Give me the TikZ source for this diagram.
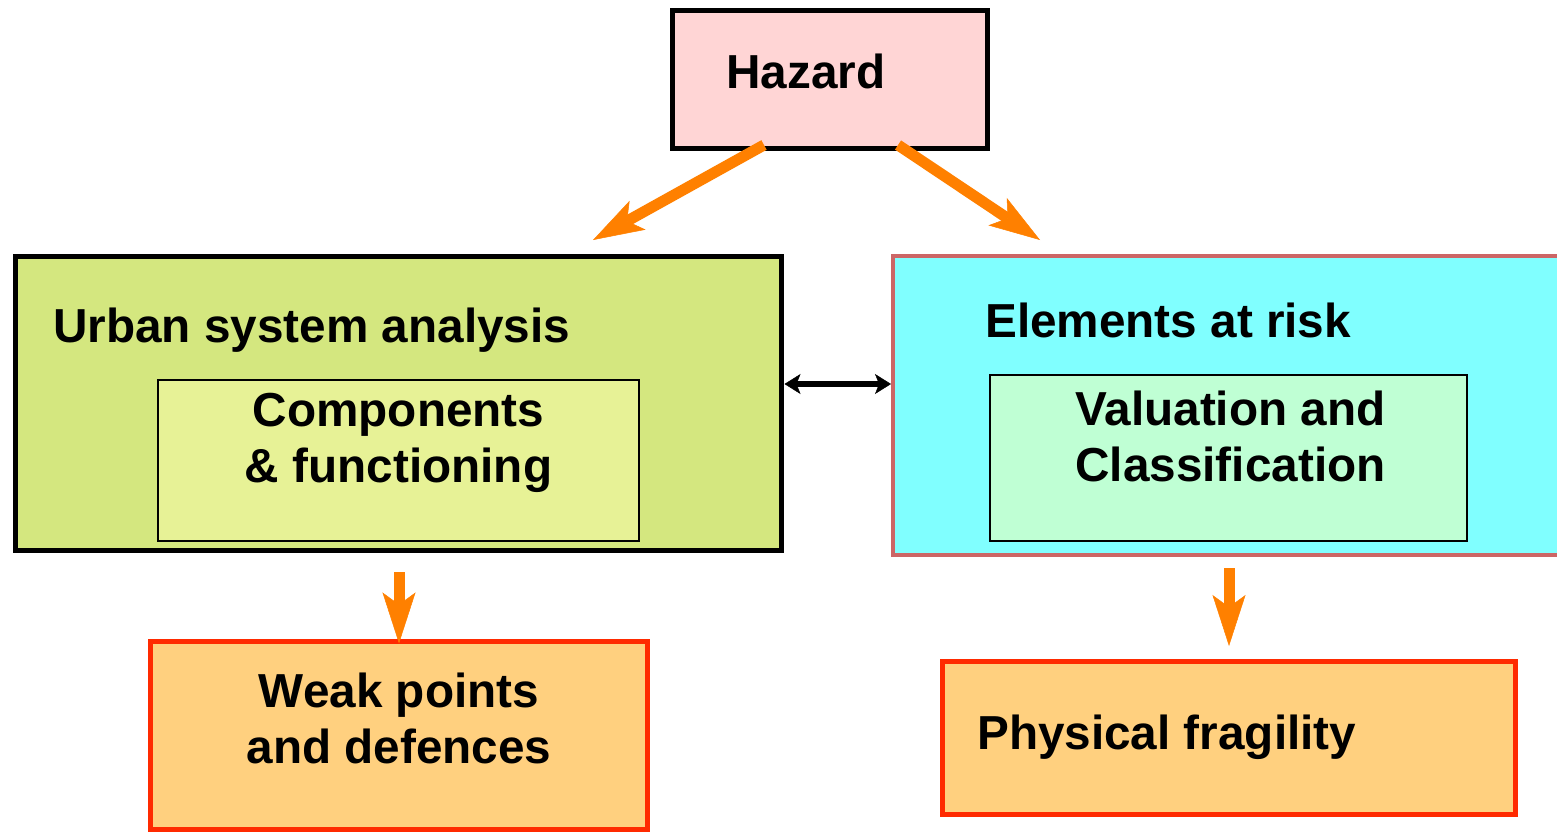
\documentclass[tikz,border=0pt]{standalone}
\usepackage{fontspec}
\setmainfont{Liberation Sans}
\usetikzlibrary{arrows.meta}
\definecolor{hazfill}{HTML}{FFD5D5}
\definecolor{urbfill}{HTML}{D4E77F}
\definecolor{compfill}{HTML}{E7F296}
\definecolor{cyanfill}{HTML}{80FFFF}
\definecolor{cyanedge}{HTML}{CC6666}
\definecolor{valfill}{HTML}{BFFFD4}
\definecolor{outfill}{HTML}{FFD07F}
\definecolor{outedge}{HTML}{FF2A00}
\definecolor{arrowor}{HTML}{FF8000}
\begin{document}
\begin{tikzpicture}[x=1pt,y=-1pt,
  box/.style={draw, rectangle, inner sep=0pt, outer sep=0pt},
  lbl/.style={font=\bfseries\fontsize{47.7}{56}\selectfont, inner sep=0pt, text=black},
  orarrow/.style={draw=arrowor, line width=11pt,
    -{Stealth[length=51pt,width=33pt,inset=12pt,line width=0.5pt]}},
  blkarrow/.style={draw=black, line width=5.5pt,
    {Stealth[length=16pt,width=20pt,inset=4pt,line width=0.5pt]}-{Stealth[length=16pt,width=20pt,inset=4pt,line width=0.5pt]}}
]
\useasboundingbox (0,0) rectangle (1557,832);

% boxes
\node[box, fill=hazfill, line width=5.5pt, minimum width=315pt, minimum height=138pt] (haz) at (830,79.5) {};
\node[box, fill=urbfill, line width=5.5pt, minimum width=766pt, minimum height=294pt] (urb) at (398.5,403.5) {};
\node[box, fill=compfill, line width=2pt, minimum width=481pt, minimum height=161pt] (comp) at (398.5,460.5) {};
\node[box, fill=cyanfill, draw=cyanedge, line width=4.5pt, minimum width=677pt, minimum height=299pt] (elem) at (1231.5,405.5) {};
\node[box, fill=valfill, line width=2pt, minimum width=477pt, minimum height=166pt] (val) at (1228.5,458) {};
\node[box, fill=outfill, draw=outedge, line width=5.5pt, minimum width=497pt, minimum height=188pt] (weak) at (399,735.5) {};
\node[box, fill=outfill, draw=outedge, line width=5.5pt, minimum width=573pt, minimum height=153pt] (phys) at (1229,738) {};

% texts
\node[lbl, anchor=base west] (hazt) at (726,89) {Hazard};
\node[lbl, anchor=base west] (urbt) at (53,342) {Urban system analysis};
\node[lbl, align=center] (compt) at (398.5,443) {Components\\\& functioning};
\node[lbl, anchor=base west] (elemt) at (985,337) {Elements at risk};
\node[lbl, align=center] (valt) at (1230.5,436.5) {Valuation and\\Classification};
\node[lbl, align=center] (weakt) at (399,718.5) {Weak points\\and defences};
\node[lbl, anchor=base west] (physt) at (977,749) {Physical fragility};

% connector end points
\coordinate (hl) at (764,145);
\coordinate (hlend) at (593,240);
\coordinate (hr) at (898,145);
\coordinate (hrend) at (1040,240);
\coordinate (ylev) at (0,384);
\coordinate (ul) at (399,572);
\coordinate (ur) at (1229,568);
\coordinate (urend) at (1229,646);

% connectors
\draw[orarrow] (hl) -- (hlend);
\draw[orarrow] (hr) -- (hrend);
\draw[blkarrow] ([xshift=3pt]urb.east |- ylev) -- ([xshift=-2pt]elem.west |- ylev);
\draw[orarrow] (ul) -- ([yshift=-2pt]weak.north);
\draw[orarrow] (ur) -- (urend);
\end{tikzpicture}
\end{document}
